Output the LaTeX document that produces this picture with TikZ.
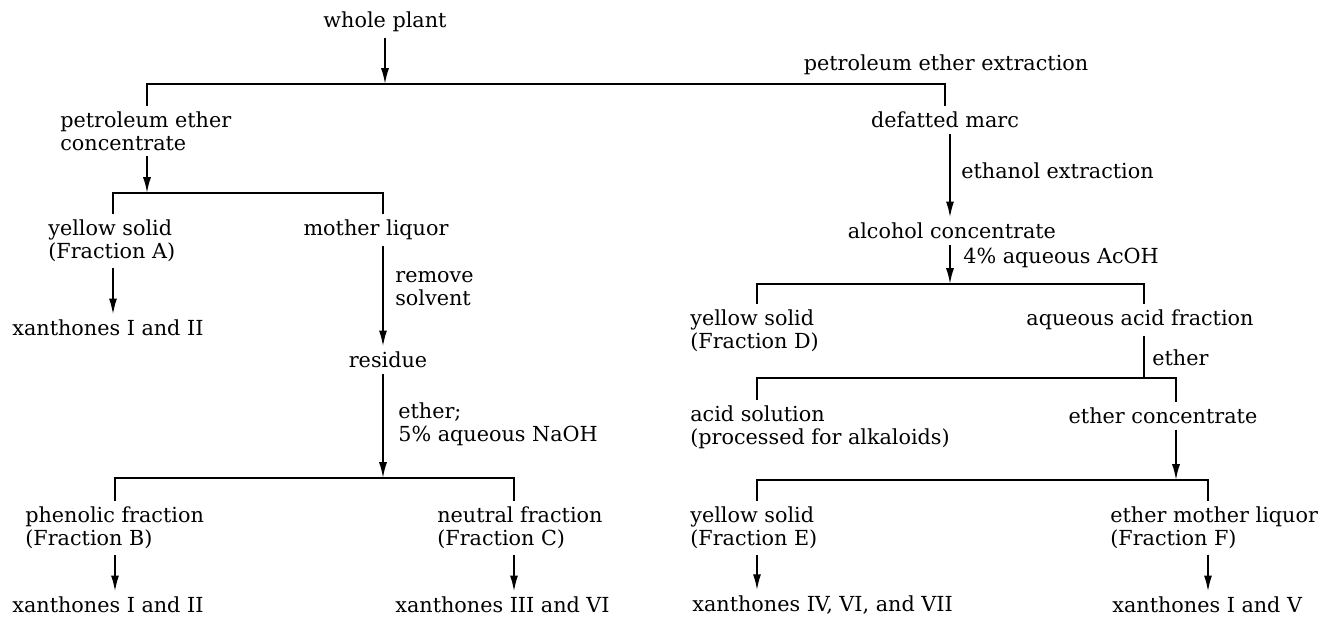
\documentclass[tikz,border=0pt]{standalone}
\usepackage{fontspec}
\setmainfont{DejaVu Serif}
\usepackage{tikz}
\usetikzlibrary{arrows.meta, positioning}

\begin{document}
\begin{tikzpicture}[
  x=0.02cm, y=-0.02cm,
  every node/.style={font=\fontsize{11.8}{13}\selectfont},
  item/.style={align=left, anchor=west, inner xsep=0pt, inner ysep=3pt},
  mid/.style={align=center, anchor=center, inner xsep=0pt, inner ysep=3pt},
  cond/.style={align=left, anchor=west, inner xsep=0pt, inner ysep=1pt},
  link/.style={line width=1pt},
  arrow/.style={link, -{Latex[length=9pt,width=4.6pt]}}
]
\useasboundingbox (0,0) rectangle (1323,618);

% left branch
\node[mid] (whole) at (385,22) {whole plant};
\node[mid] (petx) at (946,65) {petroleum ether extraction};
\node[item] (pec) at (60,131) {petroleum ether\\concentrate};
\node[mid] (marc) at (945,120) {defatted marc};
\node[item] (ysA) at (48,241) {yellow solid\\(Fraction A)};
\node[mid] (ml) at (376,230) {mother liquor};
\node[item] (xanA) at (12,328) {xanthones I and II};
\node[cond] (rs) at (395,289) {remove\\solvent};
\node[mid] (res) at (388,360) {residue};
\node[cond] (naoh) at (398,424) {ether;\\5\% aqueous NaOH};
\node[item] (phen) at (25,528) {phenolic fraction\\(Fraction B)};
\node[item] (neut) at (437,528) {neutral fraction\\(Fraction C)};
\node[item] (xanB) at (12,605) {xanthones I and II};
\node[item] (xanC) at (395,605) {xanthones III and VI};

% right branch
\node[cond] (etoh) at (961,171) {ethanol extraction};
\node[mid] (alc) at (952,231) {alcohol concentrate};
\node[cond] (acoh) at (963,258) {4\% aqueous AcOH};
\node[item] (ysD) at (690,331) {yellow solid\\(Fraction D)};
\node[mid] (aaf) at (1140,320) {aqueous acid fraction};
\node[cond] (eth) at (1152,358) {ether};
\node[item] (acid) at (690,427) {acid solution\\(processed for alkaloids)};
\node[mid] (econ) at (1163,416) {ether concentrate};
\node[item] (ysE) at (690,528) {yellow solid\\(Fraction E)};
\node[item] (eml) at (1110,528) {ether mother liquor\\(Fraction F)};
\node[item] (xanE) at (692,605) {xanthones IV, VI, and VII};
\node[item] (xanF) at (1112,605) {xanthones I and V};

% junctions
\coordinate (j0) at (385,84);
\coordinate (b1l) at (147,84);  \coordinate (b1r) at (945,84);
\coordinate (j2) at (147,193);
\coordinate (b2l) at (113,193); \coordinate (b2r) at (383,193);
\coordinate (j3) at (383,478);
\coordinate (b3l) at (115,478); \coordinate (b3r) at (514,478);
\coordinate (j4) at (950,284);
\coordinate (b4l) at (757,284); \coordinate (b4r) at (1144,284);
\coordinate (j5) at (1144,378);
\coordinate (b5l) at (757,378); \coordinate (b5r) at (1176,378);
\coordinate (j6) at (1176,480);
\coordinate (b6l) at (757,480); \coordinate (b6r) at (1208,480);

\draw[arrow] (whole.south -| j0) -- (j0);
\draw[link] (pec.north -| b1l) -- (b1l) -- (b1r) -- (marc.north -| b1r);
\draw[arrow] (pec.south -| j2) -- (j2);
\draw[link] (ysA.north -| b2l) -- (b2l) -- (b2r) -- (ml.north -| b2r);
\draw[arrow] (ysA.south -| b2l) -- (xanA.north -| b2l);
\draw[arrow] (ml.south -| b2r) -- (res.north -| b2r);
\draw[arrow] (res.south -| j3) -- (j3);
\draw[link] (phen.north -| b3l) -- (b3l) -- (b3r) -- (neut.north -| b3r);
\draw[arrow] (phen.south -| b3l) -- (xanB.north -| b3l);
\draw[arrow] (neut.south -| b3r) -- (xanC.north -| b3r);

\draw[arrow] (marc.south -| j4) -- (alc.north -| j4);
\draw[arrow] (alc.south -| j4) -- (j4);
\draw[link] (ysD.north -| b4l) -- (b4l) -- (b4r) -- (aaf.north -| b4r);
\draw[link] (aaf.south -| j5) -- (j5);
\draw[link] (acid.north -| b5l) -- (b5l) -- (b5r) -- (econ.north -| b5r);
\draw[arrow] (econ.south -| j6) -- (j6);
\draw[link] (ysE.north -| b6l) -- (b6l) -- (b6r) -- (eml.north -| b6r);
\draw[arrow] (ysE.south -| b6l) -- (xanE.north -| b6l);
\draw[arrow] (eml.south -| b6r) -- (xanF.north -| b6r);
\end{tikzpicture}
\end{document}
